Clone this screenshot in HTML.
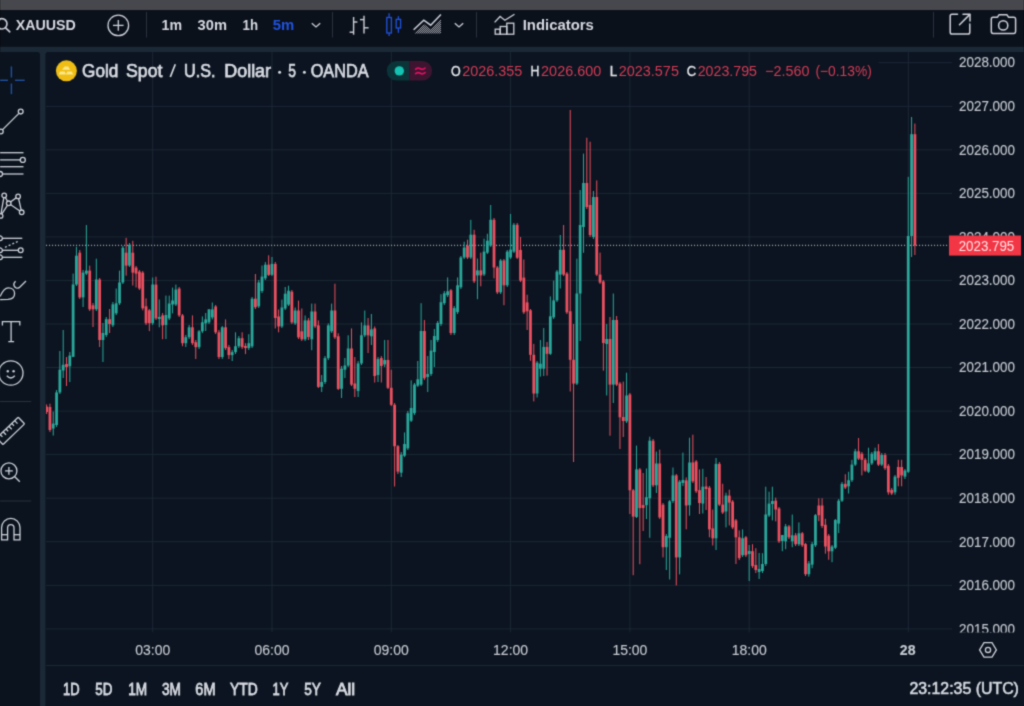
<!DOCTYPE html>
<html><head><meta charset="utf-8">
<style>
html,body{margin:0;padding:0;background:#0b111b;}
html{background:#46484d;}
body{width:1024px;height:706px;overflow:hidden;position:relative;}
svg{position:absolute;left:0;top:0;will-change:transform;}
text{font-family:"Liberation Sans",sans-serif;}
.ax{font-size:14.8px;fill:#c6c9d1;stroke:#c6c9d1;stroke-width:0.15px;}
.b{font-weight:bold;}
.tb{font-size:14.8px;font-weight:bold;fill:#d6d9e0;}
.leg{font-size:18px;fill:#d6d9e0;stroke:#d6d9e0;stroke-width:0.75px;}
.ohlc{font-size:14.6px;fill:#d63a55;}
.ohl{font-size:14.6px;fill:#e4e6ea;stroke:#e4e6ea;stroke-width:0.4px;}
.bt{font-size:16px;fill:#d6d9e0;stroke:#d6d9e0;stroke-width:0.8px;}
.bt2{font-size:16px;fill:#d6d9e0;stroke:#d6d9e0;stroke-width:0.6px;}
</style></head>
<body>
<svg width="1024" height="706" viewBox="0 0 1024 706">
<defs><filter id="soft" x="0" y="0" width="1" height="1" color-interpolation-filters="sRGB"><feConvolveMatrix order="3" kernelMatrix="1 4 1 4 16 4 1 4 1" divisor="36" edgeMode="duplicate" preserveAlpha="true"/></filter><clipPath id="pane"><rect x="46" y="52" width="978" height="580.5"/></clipPath></defs>
<g filter="url(#soft)">
<rect x="0" y="0" width="1024" height="706" fill="#0b111b"/>
<rect x="0" y="0" width="1024" height="10" fill="#46484d"/>
<rect x="0" y="46.8" width="1024" height="660" fill="#1b2836"/>
<rect x="-5" y="52" width="45" height="660" rx="3" fill="#0a131e"/>
<rect x="45.4" y="52" width="985" height="660" rx="3" fill="#0b1420"/>
<rect x="46" y="665" width="978" height="1" fill="#1b2836"/>
<g clip-path="url(#pane)">
<rect x="878.5" y="62.2" width="73.5" height="1" fill="#1c2736"/>
<rect x="46" y="105.8" width="906" height="1" fill="#1c2736"/>
<rect x="46" y="149.3" width="906" height="1" fill="#1c2736"/>
<rect x="46" y="192.8" width="906" height="1" fill="#1c2736"/>
<rect x="46" y="236.4" width="906" height="1" fill="#1c2736"/>
<rect x="46" y="279.9" width="906" height="1" fill="#1c2736"/>
<rect x="46" y="323.5" width="906" height="1" fill="#1c2736"/>
<rect x="46" y="367.0" width="906" height="1" fill="#1c2736"/>
<rect x="46" y="410.6" width="906" height="1" fill="#1c2736"/>
<rect x="46" y="454.1" width="906" height="1" fill="#1c2736"/>
<rect x="46" y="497.7" width="906" height="1" fill="#1c2736"/>
<rect x="46" y="541.2" width="906" height="1" fill="#1c2736"/>
<rect x="46" y="584.8" width="906" height="1" fill="#1c2736"/>
<rect x="46" y="628.4" width="906" height="1" fill="#1c2736"/>
<rect x="152.2" y="52" width="1" height="580.5" fill="#1c2736"/>
<rect x="271.5" y="52" width="1" height="580.5" fill="#1c2736"/>
<rect x="390.8" y="52" width="1" height="580.5" fill="#1c2736"/>
<rect x="510.1" y="52" width="1" height="580.5" fill="#1c2736"/>
<rect x="629.4" y="52" width="1" height="580.5" fill="#1c2736"/>
<rect x="748.7" y="52" width="1" height="580.5" fill="#1c2736"/>
<rect x="907.8" y="52" width="1" height="580.5" fill="#1c2736"/>
<line x1="46" y1="245.4" x2="949" y2="245.4" stroke="#a3a7b0" stroke-width="1.1" stroke-dasharray="1.1,1.9"/>
<rect x="46.12" y="404.4" width="1" height="9.6" fill="#eb5060"/>
<rect x="45.22" y="406.6" width="2.8" height="5.4" fill="#eb5060"/>
<rect x="49.43" y="403.7" width="1" height="28.3" fill="#eb5060"/>
<rect x="48.53" y="407.0" width="2.8" height="23.0" fill="#eb5060"/>
<rect x="52.74" y="411.5" width="1" height="24.1" fill="#2aa89b"/>
<rect x="51.84" y="423.6" width="2.8" height="4.9" fill="#2aa89b"/>
<rect x="56.06" y="390.0" width="1" height="37.0" fill="#2aa89b"/>
<rect x="55.16" y="392.4" width="2.8" height="32.6" fill="#2aa89b"/>
<rect x="59.37" y="351.0" width="1" height="43.0" fill="#2aa89b"/>
<rect x="58.47" y="369.7" width="2.8" height="22.7" fill="#2aa89b"/>
<rect x="62.69" y="330.0" width="1" height="48.0" fill="#2aa89b"/>
<rect x="61.79" y="364.8" width="2.8" height="5.7" fill="#2aa89b"/>
<rect x="66.00" y="357.0" width="1" height="29.0" fill="#eb5060"/>
<rect x="65.10" y="364.0" width="2.8" height="3.0" fill="#eb5060"/>
<rect x="69.31" y="352.0" width="1" height="30.0" fill="#2aa89b"/>
<rect x="68.41" y="355.6" width="2.8" height="10.6" fill="#2aa89b"/>
<rect x="72.63" y="273.6" width="1" height="83.4" fill="#2aa89b"/>
<rect x="71.73" y="284.5" width="2.8" height="72.4" fill="#2aa89b"/>
<rect x="75.94" y="246.8" width="1" height="39.2" fill="#2aa89b"/>
<rect x="75.04" y="255.7" width="2.8" height="28.8" fill="#2aa89b"/>
<rect x="79.26" y="250.0" width="1" height="49.0" fill="#eb5060"/>
<rect x="78.36" y="252.7" width="2.8" height="44.7" fill="#eb5060"/>
<rect x="82.57" y="270.0" width="1" height="37.0" fill="#2aa89b"/>
<rect x="81.67" y="272.6" width="2.8" height="24.8" fill="#2aa89b"/>
<rect x="85.88" y="225.0" width="1" height="50.0" fill="#2aa89b"/>
<rect x="84.98" y="270.6" width="2.8" height="3.0" fill="#2aa89b"/>
<rect x="89.20" y="265.6" width="1" height="45.4" fill="#eb5060"/>
<rect x="88.30" y="270.6" width="2.8" height="38.7" fill="#eb5060"/>
<rect x="92.51" y="303.0" width="1" height="24.0" fill="#eb5060"/>
<rect x="91.61" y="305.3" width="2.8" height="4.0" fill="#eb5060"/>
<rect x="95.83" y="258.7" width="1" height="52.3" fill="#2aa89b"/>
<rect x="94.93" y="279.5" width="2.8" height="29.8" fill="#2aa89b"/>
<rect x="99.14" y="278.0" width="1" height="69.0" fill="#eb5060"/>
<rect x="98.24" y="279.5" width="2.8" height="60.5" fill="#eb5060"/>
<rect x="102.45" y="323.0" width="1" height="39.0" fill="#2aa89b"/>
<rect x="101.55" y="333.0" width="2.8" height="7.0" fill="#2aa89b"/>
<rect x="105.77" y="317.0" width="1" height="20.0" fill="#2aa89b"/>
<rect x="104.87" y="319.2" width="2.8" height="15.8" fill="#2aa89b"/>
<rect x="109.08" y="309.0" width="1" height="24.0" fill="#eb5060"/>
<rect x="108.18" y="319.2" width="2.8" height="4.8" fill="#eb5060"/>
<rect x="112.40" y="302.0" width="1" height="25.0" fill="#2aa89b"/>
<rect x="111.50" y="304.3" width="2.8" height="20.9" fill="#2aa89b"/>
<rect x="115.71" y="288.5" width="1" height="26.5" fill="#2aa89b"/>
<rect x="114.81" y="303.3" width="2.8" height="10.0" fill="#2aa89b"/>
<rect x="119.02" y="270.6" width="1" height="34.4" fill="#2aa89b"/>
<rect x="118.12" y="282.5" width="2.8" height="20.8" fill="#2aa89b"/>
<rect x="122.34" y="246.0" width="1" height="38.0" fill="#2aa89b"/>
<rect x="121.44" y="247.8" width="2.8" height="34.7" fill="#2aa89b"/>
<rect x="125.65" y="237.9" width="1" height="37.7" fill="#eb5060"/>
<rect x="124.75" y="252.7" width="2.8" height="12.9" fill="#eb5060"/>
<rect x="128.97" y="243.0" width="1" height="24.0" fill="#2aa89b"/>
<rect x="128.07" y="244.8" width="2.8" height="20.8" fill="#2aa89b"/>
<rect x="132.28" y="240.8" width="1" height="44.7" fill="#eb5060"/>
<rect x="131.38" y="252.7" width="2.8" height="19.9" fill="#eb5060"/>
<rect x="135.59" y="266.0" width="1" height="21.5" fill="#eb5060"/>
<rect x="134.69" y="267.6" width="2.8" height="6.0" fill="#eb5060"/>
<rect x="138.91" y="270.0" width="1" height="20.0" fill="#eb5060"/>
<rect x="138.01" y="271.6" width="2.8" height="16.9" fill="#eb5060"/>
<rect x="142.22" y="271.0" width="1" height="39.3" fill="#eb5060"/>
<rect x="141.32" y="272.6" width="2.8" height="35.7" fill="#eb5060"/>
<rect x="145.54" y="298.4" width="1" height="26.6" fill="#eb5060"/>
<rect x="144.64" y="306.3" width="2.8" height="16.9" fill="#eb5060"/>
<rect x="148.85" y="309.0" width="1" height="22.1" fill="#eb5060"/>
<rect x="147.95" y="310.3" width="2.8" height="12.9" fill="#eb5060"/>
<rect x="152.16" y="277.5" width="1" height="47.5" fill="#2aa89b"/>
<rect x="151.26" y="284.5" width="2.8" height="38.7" fill="#2aa89b"/>
<rect x="155.48" y="276.7" width="1" height="43.3" fill="#eb5060"/>
<rect x="154.58" y="284.6" width="2.8" height="33.8" fill="#eb5060"/>
<rect x="158.79" y="299.5" width="1" height="27.8" fill="#2aa89b"/>
<rect x="157.89" y="317.0" width="2.8" height="2.0" fill="#2aa89b"/>
<rect x="162.11" y="313.0" width="1" height="26.2" fill="#eb5060"/>
<rect x="161.21" y="315.4" width="2.8" height="9.9" fill="#eb5060"/>
<rect x="165.42" y="295.6" width="1" height="43.4" fill="#2aa89b"/>
<rect x="164.52" y="315.0" width="2.8" height="10.0" fill="#2aa89b"/>
<rect x="168.73" y="295.6" width="1" height="24.4" fill="#2aa89b"/>
<rect x="167.83" y="303.5" width="2.8" height="14.9" fill="#2aa89b"/>
<rect x="172.05" y="287.6" width="1" height="25.8" fill="#2aa89b"/>
<rect x="171.15" y="300.5" width="2.8" height="4.0" fill="#2aa89b"/>
<rect x="175.36" y="284.6" width="1" height="21.4" fill="#2aa89b"/>
<rect x="174.46" y="289.6" width="2.8" height="14.9" fill="#2aa89b"/>
<rect x="178.68" y="287.0" width="1" height="30.0" fill="#eb5060"/>
<rect x="177.78" y="288.6" width="2.8" height="26.8" fill="#eb5060"/>
<rect x="181.99" y="314.0" width="1" height="32.2" fill="#eb5060"/>
<rect x="181.09" y="315.4" width="2.8" height="27.8" fill="#eb5060"/>
<rect x="185.30" y="335.0" width="1" height="12.0" fill="#2aa89b"/>
<rect x="184.40" y="337.2" width="2.8" height="6.0" fill="#2aa89b"/>
<rect x="188.62" y="325.0" width="1" height="14.0" fill="#2aa89b"/>
<rect x="187.72" y="327.3" width="2.8" height="9.9" fill="#2aa89b"/>
<rect x="191.93" y="315.4" width="1" height="29.6" fill="#eb5060"/>
<rect x="191.03" y="327.3" width="2.8" height="15.9" fill="#eb5060"/>
<rect x="195.25" y="340.0" width="1" height="19.0" fill="#eb5060"/>
<rect x="194.35" y="342.2" width="2.8" height="4.9" fill="#eb5060"/>
<rect x="198.56" y="330.0" width="1" height="19.0" fill="#2aa89b"/>
<rect x="197.66" y="331.3" width="2.8" height="15.8" fill="#2aa89b"/>
<rect x="201.87" y="316.4" width="1" height="16.6" fill="#2aa89b"/>
<rect x="200.97" y="322.3" width="2.8" height="9.0" fill="#2aa89b"/>
<rect x="205.19" y="313.0" width="1" height="18.0" fill="#2aa89b"/>
<rect x="204.29" y="319.4" width="2.8" height="3.9" fill="#2aa89b"/>
<rect x="208.50" y="309.0" width="1" height="15.0" fill="#2aa89b"/>
<rect x="207.60" y="309.4" width="2.8" height="12.9" fill="#2aa89b"/>
<rect x="211.82" y="302.5" width="1" height="16.9" fill="#2aa89b"/>
<rect x="210.92" y="309.4" width="2.8" height="8.0" fill="#2aa89b"/>
<rect x="215.13" y="305.0" width="1" height="29.0" fill="#eb5060"/>
<rect x="214.23" y="306.5" width="2.8" height="25.8" fill="#eb5060"/>
<rect x="218.44" y="330.0" width="1" height="29.0" fill="#eb5060"/>
<rect x="217.54" y="332.3" width="2.8" height="24.7" fill="#eb5060"/>
<rect x="221.76" y="326.0" width="1" height="33.0" fill="#2aa89b"/>
<rect x="220.86" y="327.3" width="2.8" height="29.7" fill="#2aa89b"/>
<rect x="225.07" y="319.4" width="1" height="30.6" fill="#eb5060"/>
<rect x="224.17" y="327.3" width="2.8" height="20.8" fill="#eb5060"/>
<rect x="228.39" y="345.0" width="1" height="14.0" fill="#eb5060"/>
<rect x="227.49" y="347.1" width="2.8" height="8.0" fill="#eb5060"/>
<rect x="231.70" y="350.0" width="1" height="11.0" fill="#2aa89b"/>
<rect x="230.80" y="352.1" width="2.8" height="3.0" fill="#2aa89b"/>
<rect x="235.01" y="332.3" width="1" height="21.7" fill="#2aa89b"/>
<rect x="234.11" y="346.2" width="2.8" height="5.9" fill="#2aa89b"/>
<rect x="238.33" y="336.0" width="1" height="12.0" fill="#2aa89b"/>
<rect x="237.43" y="338.2" width="2.8" height="8.0" fill="#2aa89b"/>
<rect x="241.64" y="332.3" width="1" height="16.7" fill="#eb5060"/>
<rect x="240.74" y="338.2" width="2.8" height="8.9" fill="#eb5060"/>
<rect x="244.96" y="343.2" width="1" height="10.9" fill="#eb5060"/>
<rect x="244.06" y="346.0" width="2.8" height="2.0" fill="#eb5060"/>
<rect x="248.27" y="334.2" width="1" height="15.8" fill="#2aa89b"/>
<rect x="247.37" y="343.2" width="2.8" height="4.9" fill="#2aa89b"/>
<rect x="251.58" y="297.0" width="1" height="51.0" fill="#2aa89b"/>
<rect x="250.68" y="298.7" width="2.8" height="47.6" fill="#2aa89b"/>
<rect x="254.90" y="274.0" width="1" height="35.0" fill="#eb5060"/>
<rect x="254.00" y="298.7" width="2.8" height="8.5" fill="#eb5060"/>
<rect x="258.21" y="280.0" width="1" height="28.0" fill="#2aa89b"/>
<rect x="257.31" y="282.5" width="2.8" height="23.8" fill="#2aa89b"/>
<rect x="261.53" y="265.5" width="1" height="27.5" fill="#2aa89b"/>
<rect x="260.63" y="276.6" width="2.8" height="14.4" fill="#2aa89b"/>
<rect x="264.84" y="262.0" width="1" height="18.0" fill="#2aa89b"/>
<rect x="263.94" y="264.7" width="2.8" height="13.6" fill="#2aa89b"/>
<rect x="268.15" y="255.3" width="1" height="20.7" fill="#eb5060"/>
<rect x="267.25" y="264.7" width="2.8" height="10.2" fill="#eb5060"/>
<rect x="271.47" y="257.0" width="1" height="19.0" fill="#2aa89b"/>
<rect x="270.57" y="263.9" width="2.8" height="10.9" fill="#2aa89b"/>
<rect x="274.78" y="262.0" width="1" height="66.4" fill="#eb5060"/>
<rect x="273.88" y="263.9" width="2.8" height="54.1" fill="#eb5060"/>
<rect x="278.10" y="309.5" width="1" height="22.8" fill="#eb5060"/>
<rect x="277.20" y="316.5" width="2.8" height="9.9" fill="#eb5060"/>
<rect x="281.41" y="299.6" width="1" height="28.4" fill="#2aa89b"/>
<rect x="280.51" y="307.5" width="2.8" height="18.9" fill="#2aa89b"/>
<rect x="284.72" y="287.0" width="1" height="23.0" fill="#2aa89b"/>
<rect x="283.82" y="293.7" width="2.8" height="14.8" fill="#2aa89b"/>
<rect x="288.04" y="285.7" width="1" height="20.3" fill="#2aa89b"/>
<rect x="287.14" y="290.7" width="2.8" height="13.9" fill="#2aa89b"/>
<rect x="291.35" y="290.0" width="1" height="34.0" fill="#eb5060"/>
<rect x="290.45" y="291.7" width="2.8" height="30.7" fill="#eb5060"/>
<rect x="294.67" y="307.5" width="1" height="17.5" fill="#2aa89b"/>
<rect x="293.77" y="310.5" width="2.8" height="12.9" fill="#2aa89b"/>
<rect x="297.98" y="300.6" width="1" height="38.4" fill="#eb5060"/>
<rect x="297.08" y="310.5" width="2.8" height="26.8" fill="#eb5060"/>
<rect x="301.29" y="308.5" width="1" height="32.5" fill="#eb5060"/>
<rect x="300.39" y="331.3" width="2.8" height="8.0" fill="#eb5060"/>
<rect x="304.61" y="315.5" width="1" height="25.5" fill="#2aa89b"/>
<rect x="303.71" y="320.4" width="2.8" height="18.9" fill="#2aa89b"/>
<rect x="307.92" y="318.0" width="1" height="22.0" fill="#eb5060"/>
<rect x="307.02" y="320.4" width="2.8" height="16.6" fill="#eb5060"/>
<rect x="311.24" y="303.6" width="1" height="46.6" fill="#2aa89b"/>
<rect x="310.34" y="311.5" width="2.8" height="27.8" fill="#2aa89b"/>
<rect x="314.55" y="303.6" width="1" height="24.4" fill="#eb5060"/>
<rect x="313.65" y="311.5" width="2.8" height="14.9" fill="#eb5060"/>
<rect x="317.86" y="320.4" width="1" height="67.6" fill="#eb5060"/>
<rect x="316.96" y="325.4" width="2.8" height="61.5" fill="#eb5060"/>
<rect x="321.18" y="375.0" width="1" height="17.0" fill="#2aa89b"/>
<rect x="320.28" y="382.0" width="2.8" height="4.9" fill="#2aa89b"/>
<rect x="324.49" y="356.0" width="1" height="28.0" fill="#2aa89b"/>
<rect x="323.59" y="358.1" width="2.8" height="23.9" fill="#2aa89b"/>
<rect x="327.81" y="323.4" width="1" height="36.6" fill="#2aa89b"/>
<rect x="326.91" y="325.4" width="2.8" height="32.7" fill="#2aa89b"/>
<rect x="331.12" y="303.6" width="1" height="29.4" fill="#2aa89b"/>
<rect x="330.22" y="310.5" width="2.8" height="20.8" fill="#2aa89b"/>
<rect x="334.43" y="283.7" width="1" height="55.3" fill="#eb5060"/>
<rect x="333.53" y="310.5" width="2.8" height="26.8" fill="#eb5060"/>
<rect x="337.75" y="333.3" width="1" height="56.7" fill="#eb5060"/>
<rect x="336.85" y="336.3" width="2.8" height="52.6" fill="#eb5060"/>
<rect x="341.06" y="366.0" width="1" height="32.0" fill="#2aa89b"/>
<rect x="340.16" y="368.7" width="2.8" height="20.1" fill="#2aa89b"/>
<rect x="344.38" y="358.0" width="1" height="20.0" fill="#2aa89b"/>
<rect x="343.48" y="365.5" width="2.8" height="4.2" fill="#2aa89b"/>
<rect x="347.69" y="335.3" width="1" height="31.7" fill="#2aa89b"/>
<rect x="346.79" y="348.5" width="2.8" height="17.0" fill="#2aa89b"/>
<rect x="351.00" y="328.4" width="1" height="57.6" fill="#eb5060"/>
<rect x="350.10" y="348.5" width="2.8" height="36.1" fill="#eb5060"/>
<rect x="354.32" y="357.0" width="1" height="40.0" fill="#eb5060"/>
<rect x="353.42" y="383.5" width="2.8" height="5.3" fill="#eb5060"/>
<rect x="357.63" y="361.0" width="1" height="36.0" fill="#2aa89b"/>
<rect x="356.73" y="363.4" width="2.8" height="27.6" fill="#2aa89b"/>
<rect x="360.95" y="322.4" width="1" height="42.6" fill="#2aa89b"/>
<rect x="360.05" y="335.3" width="2.8" height="28.1" fill="#2aa89b"/>
<rect x="364.26" y="310.5" width="1" height="26.5" fill="#2aa89b"/>
<rect x="363.36" y="325.4" width="2.8" height="9.9" fill="#2aa89b"/>
<rect x="367.57" y="318.0" width="1" height="35.0" fill="#eb5060"/>
<rect x="366.67" y="325.4" width="2.8" height="9.9" fill="#eb5060"/>
<rect x="370.89" y="314.0" width="1" height="31.0" fill="#2aa89b"/>
<rect x="369.99" y="329.4" width="2.8" height="6.9" fill="#2aa89b"/>
<rect x="374.20" y="326.4" width="1" height="56.1" fill="#eb5060"/>
<rect x="373.30" y="328.4" width="2.8" height="47.6" fill="#eb5060"/>
<rect x="377.52" y="357.0" width="1" height="25.0" fill="#2aa89b"/>
<rect x="376.62" y="359.1" width="2.8" height="15.9" fill="#2aa89b"/>
<rect x="380.83" y="356.0" width="1" height="26.5" fill="#eb5060"/>
<rect x="379.93" y="358.0" width="2.8" height="8.0" fill="#eb5060"/>
<rect x="384.14" y="340.0" width="1" height="27.0" fill="#2aa89b"/>
<rect x="383.24" y="360.0" width="2.8" height="4.4" fill="#2aa89b"/>
<rect x="387.46" y="340.0" width="1" height="49.0" fill="#eb5060"/>
<rect x="386.56" y="360.0" width="2.8" height="27.8" fill="#eb5060"/>
<rect x="390.77" y="369.7" width="1" height="36.3" fill="#eb5060"/>
<rect x="389.87" y="387.8" width="2.8" height="17.0" fill="#eb5060"/>
<rect x="394.09" y="403.0" width="1" height="83.5" fill="#eb5060"/>
<rect x="393.19" y="404.8" width="2.8" height="41.4" fill="#eb5060"/>
<rect x="397.40" y="445.0" width="1" height="29.0" fill="#eb5060"/>
<rect x="396.50" y="446.2" width="2.8" height="25.4" fill="#eb5060"/>
<rect x="400.71" y="452.0" width="1" height="25.0" fill="#2aa89b"/>
<rect x="399.81" y="454.6" width="2.8" height="18.1" fill="#2aa89b"/>
<rect x="404.03" y="432.4" width="1" height="24.6" fill="#2aa89b"/>
<rect x="403.13" y="444.0" width="2.8" height="11.7" fill="#2aa89b"/>
<rect x="407.34" y="411.0" width="1" height="39.0" fill="#2aa89b"/>
<rect x="406.44" y="413.2" width="2.8" height="35.1" fill="#2aa89b"/>
<rect x="410.66" y="380.3" width="1" height="41.7" fill="#2aa89b"/>
<rect x="409.76" y="408.0" width="2.8" height="12.7" fill="#2aa89b"/>
<rect x="413.97" y="383.0" width="1" height="32.0" fill="#2aa89b"/>
<rect x="413.07" y="384.6" width="2.8" height="28.6" fill="#2aa89b"/>
<rect x="417.28" y="361.0" width="1" height="26.0" fill="#2aa89b"/>
<rect x="416.38" y="379.3" width="2.8" height="6.3" fill="#2aa89b"/>
<rect x="420.60" y="303.2" width="1" height="82.8" fill="#2aa89b"/>
<rect x="419.70" y="331.0" width="2.8" height="53.6" fill="#2aa89b"/>
<rect x="423.91" y="320.0" width="1" height="60.0" fill="#eb5060"/>
<rect x="423.01" y="331.0" width="2.8" height="47.2" fill="#eb5060"/>
<rect x="427.23" y="356.0" width="1" height="36.0" fill="#2aa89b"/>
<rect x="426.33" y="374.0" width="2.8" height="3.0" fill="#2aa89b"/>
<rect x="430.54" y="340.0" width="1" height="36.0" fill="#2aa89b"/>
<rect x="429.64" y="350.6" width="2.8" height="23.4" fill="#2aa89b"/>
<rect x="433.85" y="329.0" width="1" height="38.0" fill="#2aa89b"/>
<rect x="432.95" y="336.0" width="2.8" height="16.0" fill="#2aa89b"/>
<rect x="437.17" y="321.0" width="1" height="21.0" fill="#2aa89b"/>
<rect x="436.27" y="323.0" width="2.8" height="17.0" fill="#2aa89b"/>
<rect x="440.48" y="294.2" width="1" height="31.8" fill="#2aa89b"/>
<rect x="439.58" y="302.2" width="2.8" height="21.8" fill="#2aa89b"/>
<rect x="443.80" y="291.0" width="1" height="14.0" fill="#2aa89b"/>
<rect x="442.90" y="293.3" width="2.8" height="9.9" fill="#2aa89b"/>
<rect x="447.11" y="277.4" width="1" height="19.6" fill="#2aa89b"/>
<rect x="446.21" y="291.3" width="2.8" height="3.9" fill="#2aa89b"/>
<rect x="450.42" y="289.0" width="1" height="46.0" fill="#eb5060"/>
<rect x="449.52" y="290.3" width="2.8" height="42.7" fill="#eb5060"/>
<rect x="453.74" y="306.0" width="1" height="29.0" fill="#2aa89b"/>
<rect x="452.84" y="308.1" width="2.8" height="24.9" fill="#2aa89b"/>
<rect x="457.05" y="277.4" width="1" height="36.6" fill="#2aa89b"/>
<rect x="456.15" y="285.3" width="2.8" height="26.8" fill="#2aa89b"/>
<rect x="460.37" y="256.0" width="1" height="33.0" fill="#2aa89b"/>
<rect x="459.47" y="257.5" width="2.8" height="29.8" fill="#2aa89b"/>
<rect x="463.68" y="241.7" width="1" height="17.3" fill="#2aa89b"/>
<rect x="462.78" y="247.6" width="2.8" height="9.9" fill="#2aa89b"/>
<rect x="466.99" y="239.7" width="1" height="19.3" fill="#eb5060"/>
<rect x="466.09" y="245.6" width="2.8" height="11.9" fill="#eb5060"/>
<rect x="470.31" y="219.8" width="1" height="39.2" fill="#2aa89b"/>
<rect x="469.41" y="234.7" width="2.8" height="22.8" fill="#2aa89b"/>
<rect x="473.62" y="229.8" width="1" height="53.2" fill="#eb5060"/>
<rect x="472.72" y="234.7" width="2.8" height="46.6" fill="#eb5060"/>
<rect x="476.94" y="258.5" width="1" height="40.7" fill="#2aa89b"/>
<rect x="476.04" y="270.4" width="2.8" height="5.0" fill="#2aa89b"/>
<rect x="480.25" y="252.6" width="1" height="33.7" fill="#eb5060"/>
<rect x="479.35" y="270.4" width="2.8" height="5.0" fill="#eb5060"/>
<rect x="483.56" y="238.7" width="1" height="37.3" fill="#2aa89b"/>
<rect x="482.66" y="251.6" width="2.8" height="22.8" fill="#2aa89b"/>
<rect x="486.88" y="233.7" width="1" height="20.3" fill="#2aa89b"/>
<rect x="485.98" y="240.7" width="2.8" height="11.9" fill="#2aa89b"/>
<rect x="490.19" y="205.0" width="1" height="42.0" fill="#2aa89b"/>
<rect x="489.29" y="219.8" width="2.8" height="25.8" fill="#2aa89b"/>
<rect x="493.51" y="218.0" width="1" height="60.4" fill="#eb5060"/>
<rect x="492.61" y="219.8" width="2.8" height="47.7" fill="#eb5060"/>
<rect x="496.82" y="266.0" width="1" height="28.0" fill="#eb5060"/>
<rect x="495.92" y="267.5" width="2.8" height="24.8" fill="#eb5060"/>
<rect x="500.13" y="259.0" width="1" height="35.0" fill="#2aa89b"/>
<rect x="499.23" y="260.5" width="2.8" height="31.8" fill="#2aa89b"/>
<rect x="503.45" y="259.0" width="1" height="46.2" fill="#eb5060"/>
<rect x="502.55" y="260.5" width="2.8" height="24.8" fill="#eb5060"/>
<rect x="506.76" y="250.0" width="1" height="37.0" fill="#2aa89b"/>
<rect x="505.86" y="251.6" width="2.8" height="33.7" fill="#2aa89b"/>
<rect x="510.08" y="213.9" width="1" height="45.1" fill="#2aa89b"/>
<rect x="509.18" y="249.6" width="2.8" height="7.9" fill="#2aa89b"/>
<rect x="513.39" y="223.0" width="1" height="30.0" fill="#2aa89b"/>
<rect x="512.49" y="224.8" width="2.8" height="26.8" fill="#2aa89b"/>
<rect x="516.70" y="223.0" width="1" height="36.0" fill="#eb5060"/>
<rect x="515.80" y="224.8" width="2.8" height="32.9" fill="#eb5060"/>
<rect x="520.02" y="237.0" width="1" height="45.0" fill="#eb5060"/>
<rect x="519.12" y="250.0" width="2.8" height="30.6" fill="#eb5060"/>
<rect x="523.33" y="259.5" width="1" height="54.5" fill="#eb5060"/>
<rect x="522.43" y="277.6" width="2.8" height="34.7" fill="#eb5060"/>
<rect x="526.65" y="294.7" width="1" height="35.3" fill="#eb5060"/>
<rect x="525.75" y="302.4" width="2.8" height="8.9" fill="#eb5060"/>
<rect x="529.96" y="309.0" width="1" height="51.8" fill="#eb5060"/>
<rect x="529.06" y="310.3" width="2.8" height="44.5" fill="#eb5060"/>
<rect x="533.27" y="343.9" width="1" height="57.5" fill="#eb5060"/>
<rect x="532.37" y="354.8" width="2.8" height="38.7" fill="#eb5060"/>
<rect x="536.59" y="361.0" width="1" height="36.5" fill="#2aa89b"/>
<rect x="535.69" y="362.7" width="2.8" height="30.8" fill="#2aa89b"/>
<rect x="539.90" y="340.0" width="1" height="36.6" fill="#2aa89b"/>
<rect x="539.00" y="363.7" width="2.8" height="5.0" fill="#2aa89b"/>
<rect x="543.22" y="328.0" width="1" height="48.0" fill="#2aa89b"/>
<rect x="542.32" y="346.9" width="2.8" height="21.8" fill="#2aa89b"/>
<rect x="546.53" y="342.0" width="1" height="33.6" fill="#eb5060"/>
<rect x="545.63" y="346.9" width="2.8" height="6.9" fill="#eb5060"/>
<rect x="549.84" y="296.4" width="1" height="58.6" fill="#2aa89b"/>
<rect x="548.94" y="316.3" width="2.8" height="37.5" fill="#2aa89b"/>
<rect x="553.16" y="280.6" width="1" height="38.4" fill="#2aa89b"/>
<rect x="552.26" y="300.4" width="2.8" height="16.9" fill="#2aa89b"/>
<rect x="556.47" y="270.0" width="1" height="32.0" fill="#2aa89b"/>
<rect x="555.57" y="271.6" width="2.8" height="28.8" fill="#2aa89b"/>
<rect x="559.79" y="235.0" width="1" height="53.5" fill="#2aa89b"/>
<rect x="558.89" y="249.8" width="2.8" height="24.8" fill="#2aa89b"/>
<rect x="563.10" y="225.0" width="1" height="51.0" fill="#eb5060"/>
<rect x="562.20" y="249.8" width="2.8" height="24.8" fill="#eb5060"/>
<rect x="566.41" y="272.0" width="1" height="42.0" fill="#eb5060"/>
<rect x="565.51" y="273.6" width="2.8" height="38.7" fill="#eb5060"/>
<rect x="569.73" y="110.0" width="1" height="281.5" fill="#eb5060"/>
<rect x="568.83" y="311.3" width="2.8" height="48.5" fill="#eb5060"/>
<rect x="573.04" y="324.0" width="1" height="138.0" fill="#eb5060"/>
<rect x="572.14" y="359.8" width="2.8" height="23.8" fill="#eb5060"/>
<rect x="576.36" y="258.7" width="1" height="126.3" fill="#2aa89b"/>
<rect x="575.46" y="293.5" width="2.8" height="90.1" fill="#2aa89b"/>
<rect x="579.67" y="190.0" width="1" height="151.0" fill="#2aa89b"/>
<rect x="578.77" y="225.0" width="2.8" height="68.5" fill="#2aa89b"/>
<rect x="582.98" y="153.6" width="1" height="99.2" fill="#2aa89b"/>
<rect x="582.08" y="183.0" width="2.8" height="44.0" fill="#2aa89b"/>
<rect x="586.30" y="137.7" width="1" height="71.3" fill="#eb5060"/>
<rect x="585.40" y="183.0" width="2.8" height="24.0" fill="#eb5060"/>
<rect x="589.61" y="141.7" width="1" height="95.3" fill="#eb5060"/>
<rect x="588.71" y="205.0" width="2.8" height="30.0" fill="#eb5060"/>
<rect x="592.93" y="191.0" width="1" height="48.0" fill="#2aa89b"/>
<rect x="592.03" y="197.0" width="2.8" height="40.0" fill="#2aa89b"/>
<rect x="596.24" y="180.4" width="1" height="95.6" fill="#eb5060"/>
<rect x="595.34" y="197.0" width="2.8" height="77.6" fill="#eb5060"/>
<rect x="599.55" y="252.6" width="1" height="31.4" fill="#eb5060"/>
<rect x="598.65" y="274.6" width="2.8" height="7.9" fill="#eb5060"/>
<rect x="602.87" y="280.0" width="1" height="90.7" fill="#eb5060"/>
<rect x="601.97" y="281.5" width="2.8" height="61.5" fill="#eb5060"/>
<rect x="606.18" y="324.0" width="1" height="71.5" fill="#2aa89b"/>
<rect x="605.28" y="339.0" width="2.8" height="5.0" fill="#2aa89b"/>
<rect x="609.50" y="317.0" width="1" height="118.7" fill="#eb5060"/>
<rect x="608.60" y="339.0" width="2.8" height="45.6" fill="#eb5060"/>
<rect x="612.81" y="293.5" width="1" height="109.5" fill="#2aa89b"/>
<rect x="611.91" y="320.0" width="2.8" height="64.6" fill="#2aa89b"/>
<rect x="616.12" y="316.0" width="1" height="70.0" fill="#eb5060"/>
<rect x="615.22" y="320.0" width="2.8" height="64.6" fill="#eb5060"/>
<rect x="619.44" y="382.0" width="1" height="67.0" fill="#eb5060"/>
<rect x="618.54" y="383.6" width="2.8" height="33.7" fill="#eb5060"/>
<rect x="622.75" y="381.6" width="1" height="55.4" fill="#eb5060"/>
<rect x="621.85" y="417.0" width="2.8" height="4.0" fill="#eb5060"/>
<rect x="626.07" y="372.7" width="1" height="50.3" fill="#2aa89b"/>
<rect x="625.17" y="395.5" width="2.8" height="25.8" fill="#2aa89b"/>
<rect x="629.38" y="393.0" width="1" height="121.0" fill="#eb5060"/>
<rect x="628.48" y="394.5" width="2.8" height="95.8" fill="#eb5060"/>
<rect x="632.69" y="489.0" width="1" height="86.2" fill="#eb5060"/>
<rect x="631.79" y="490.3" width="2.8" height="26.3" fill="#eb5060"/>
<rect x="636.01" y="445.6" width="1" height="72.4" fill="#2aa89b"/>
<rect x="635.11" y="469.4" width="2.8" height="47.6" fill="#2aa89b"/>
<rect x="639.32" y="468.0" width="1" height="96.2" fill="#eb5060"/>
<rect x="638.42" y="469.4" width="2.8" height="38.7" fill="#eb5060"/>
<rect x="642.64" y="473.0" width="1" height="58.0" fill="#eb5060"/>
<rect x="641.74" y="505.0" width="2.8" height="3.0" fill="#eb5060"/>
<rect x="645.95" y="468.5" width="1" height="50.5" fill="#2aa89b"/>
<rect x="645.05" y="497.2" width="2.8" height="8.0" fill="#2aa89b"/>
<rect x="649.26" y="436.7" width="1" height="101.1" fill="#2aa89b"/>
<rect x="648.36" y="440.7" width="2.8" height="57.5" fill="#2aa89b"/>
<rect x="652.58" y="439.0" width="1" height="48.0" fill="#eb5060"/>
<rect x="651.68" y="440.7" width="2.8" height="44.6" fill="#eb5060"/>
<rect x="655.89" y="451.6" width="1" height="41.4" fill="#2aa89b"/>
<rect x="654.99" y="463.5" width="2.8" height="21.8" fill="#2aa89b"/>
<rect x="659.21" y="449.6" width="1" height="69.4" fill="#eb5060"/>
<rect x="658.31" y="463.5" width="2.8" height="53.9" fill="#eb5060"/>
<rect x="662.52" y="503.0" width="1" height="54.4" fill="#eb5060"/>
<rect x="661.62" y="504.7" width="2.8" height="42.5" fill="#eb5060"/>
<rect x="665.83" y="534.0" width="1" height="36.0" fill="#2aa89b"/>
<rect x="664.93" y="536.0" width="2.8" height="11.2" fill="#2aa89b"/>
<rect x="669.15" y="500.0" width="1" height="79.5" fill="#2aa89b"/>
<rect x="668.25" y="501.3" width="2.8" height="36.5" fill="#2aa89b"/>
<rect x="672.46" y="467.5" width="1" height="35.5" fill="#2aa89b"/>
<rect x="671.56" y="475.4" width="2.8" height="25.6" fill="#2aa89b"/>
<rect x="675.78" y="474.0" width="1" height="111.4" fill="#eb5060"/>
<rect x="674.88" y="475.4" width="2.8" height="82.0" fill="#eb5060"/>
<rect x="679.09" y="480.0" width="1" height="94.4" fill="#2aa89b"/>
<rect x="678.19" y="481.7" width="2.8" height="75.7" fill="#2aa89b"/>
<rect x="682.40" y="452.6" width="1" height="33.4" fill="#2aa89b"/>
<rect x="681.50" y="480.0" width="2.8" height="3.0" fill="#2aa89b"/>
<rect x="685.72" y="477.4" width="1" height="51.9" fill="#eb5060"/>
<rect x="684.82" y="480.4" width="2.8" height="25.1" fill="#eb5060"/>
<rect x="689.03" y="437.7" width="1" height="78.0" fill="#2aa89b"/>
<rect x="688.13" y="462.5" width="2.8" height="42.7" fill="#2aa89b"/>
<rect x="692.35" y="434.7" width="1" height="48.3" fill="#eb5060"/>
<rect x="691.45" y="462.5" width="2.8" height="18.8" fill="#eb5060"/>
<rect x="695.66" y="460.0" width="1" height="33.0" fill="#eb5060"/>
<rect x="694.76" y="461.5" width="2.8" height="29.8" fill="#eb5060"/>
<rect x="698.97" y="469.4" width="1" height="44.6" fill="#eb5060"/>
<rect x="698.07" y="490.2" width="2.8" height="12.8" fill="#eb5060"/>
<rect x="702.29" y="468.8" width="1" height="44.7" fill="#2aa89b"/>
<rect x="701.39" y="486.7" width="2.8" height="16.9" fill="#2aa89b"/>
<rect x="705.60" y="477.0" width="1" height="33.0" fill="#eb5060"/>
<rect x="704.70" y="486.5" width="2.8" height="2.5" fill="#eb5060"/>
<rect x="708.92" y="486.0" width="1" height="51.3" fill="#eb5060"/>
<rect x="708.02" y="487.7" width="2.8" height="41.7" fill="#eb5060"/>
<rect x="712.23" y="509.5" width="1" height="36.0" fill="#eb5060"/>
<rect x="711.33" y="528.4" width="2.8" height="9.9" fill="#eb5060"/>
<rect x="715.54" y="458.0" width="1" height="92.0" fill="#2aa89b"/>
<rect x="714.64" y="463.9" width="2.8" height="74.4" fill="#2aa89b"/>
<rect x="718.86" y="462.0" width="1" height="44.0" fill="#eb5060"/>
<rect x="717.96" y="463.9" width="2.8" height="40.7" fill="#eb5060"/>
<rect x="722.17" y="483.7" width="1" height="30.3" fill="#eb5060"/>
<rect x="721.27" y="504.6" width="2.8" height="7.9" fill="#eb5060"/>
<rect x="725.49" y="492.7" width="1" height="34.7" fill="#2aa89b"/>
<rect x="724.59" y="495.6" width="2.8" height="15.9" fill="#2aa89b"/>
<rect x="728.80" y="489.7" width="1" height="35.7" fill="#eb5060"/>
<rect x="727.90" y="495.6" width="2.8" height="7.0" fill="#eb5060"/>
<rect x="732.11" y="500.0" width="1" height="29.0" fill="#eb5060"/>
<rect x="731.21" y="501.6" width="2.8" height="25.8" fill="#eb5060"/>
<rect x="735.43" y="519.0" width="1" height="45.0" fill="#eb5060"/>
<rect x="734.53" y="520.4" width="2.8" height="16.9" fill="#eb5060"/>
<rect x="738.74" y="530.4" width="1" height="29.6" fill="#eb5060"/>
<rect x="737.84" y="537.3" width="2.8" height="20.8" fill="#eb5060"/>
<rect x="742.06" y="529.4" width="1" height="27.6" fill="#2aa89b"/>
<rect x="741.16" y="538.3" width="2.8" height="16.9" fill="#2aa89b"/>
<rect x="745.37" y="536.0" width="1" height="21.0" fill="#eb5060"/>
<rect x="744.47" y="537.3" width="2.8" height="17.9" fill="#eb5060"/>
<rect x="748.68" y="545.0" width="1" height="36.0" fill="#2aa89b"/>
<rect x="747.78" y="551.0" width="2.8" height="3.0" fill="#2aa89b"/>
<rect x="752.00" y="544.2" width="1" height="23.8" fill="#eb5060"/>
<rect x="751.10" y="551.2" width="2.8" height="14.9" fill="#eb5060"/>
<rect x="755.31" y="548.2" width="1" height="24.8" fill="#eb5060"/>
<rect x="754.41" y="565.0" width="2.8" height="5.0" fill="#eb5060"/>
<rect x="758.63" y="553.0" width="1" height="26.0" fill="#2aa89b"/>
<rect x="757.73" y="569.0" width="2.8" height="3.0" fill="#2aa89b"/>
<rect x="761.94" y="553.2" width="1" height="19.8" fill="#2aa89b"/>
<rect x="761.04" y="564.0" width="2.8" height="7.0" fill="#2aa89b"/>
<rect x="765.25" y="486.7" width="1" height="79.3" fill="#2aa89b"/>
<rect x="764.35" y="514.5" width="2.8" height="49.5" fill="#2aa89b"/>
<rect x="768.57" y="491.7" width="1" height="25.3" fill="#2aa89b"/>
<rect x="767.67" y="503.6" width="2.8" height="11.9" fill="#2aa89b"/>
<rect x="771.88" y="486.7" width="1" height="33.7" fill="#2aa89b"/>
<rect x="770.98" y="501.0" width="2.8" height="3.0" fill="#2aa89b"/>
<rect x="775.20" y="497.6" width="1" height="23.8" fill="#eb5060"/>
<rect x="774.30" y="500.6" width="2.8" height="8.9" fill="#eb5060"/>
<rect x="778.51" y="507.0" width="1" height="36.0" fill="#eb5060"/>
<rect x="777.61" y="508.5" width="2.8" height="32.8" fill="#eb5060"/>
<rect x="781.82" y="535.0" width="1" height="16.2" fill="#2aa89b"/>
<rect x="780.92" y="535.0" width="2.8" height="6.0" fill="#2aa89b"/>
<rect x="785.14" y="524.0" width="1" height="25.2" fill="#2aa89b"/>
<rect x="784.24" y="526.4" width="2.8" height="14.9" fill="#2aa89b"/>
<rect x="788.45" y="525.0" width="1" height="14.0" fill="#eb5060"/>
<rect x="787.55" y="526.4" width="2.8" height="10.9" fill="#eb5060"/>
<rect x="791.77" y="514.5" width="1" height="32.7" fill="#2aa89b"/>
<rect x="790.87" y="535.3" width="2.8" height="6.0" fill="#2aa89b"/>
<rect x="795.08" y="533.0" width="1" height="13.0" fill="#eb5060"/>
<rect x="794.18" y="535.3" width="2.8" height="8.9" fill="#eb5060"/>
<rect x="798.39" y="522.4" width="1" height="23.6" fill="#2aa89b"/>
<rect x="797.49" y="533.3" width="2.8" height="10.9" fill="#2aa89b"/>
<rect x="801.71" y="532.0" width="1" height="15.0" fill="#eb5060"/>
<rect x="800.81" y="533.3" width="2.8" height="12.0" fill="#eb5060"/>
<rect x="805.02" y="543.0" width="1" height="33.0" fill="#eb5060"/>
<rect x="804.12" y="544.1" width="2.8" height="30.1" fill="#eb5060"/>
<rect x="808.34" y="561.0" width="1" height="15.6" fill="#2aa89b"/>
<rect x="807.44" y="563.4" width="2.8" height="10.8" fill="#2aa89b"/>
<rect x="811.65" y="542.0" width="1" height="26.2" fill="#2aa89b"/>
<rect x="810.75" y="544.1" width="2.8" height="20.5" fill="#2aa89b"/>
<rect x="814.96" y="514.0" width="1" height="33.0" fill="#2aa89b"/>
<rect x="814.06" y="515.2" width="2.8" height="30.1" fill="#2aa89b"/>
<rect x="818.28" y="498.3" width="1" height="22.9" fill="#eb5060"/>
<rect x="817.38" y="505.5" width="2.8" height="9.7" fill="#eb5060"/>
<rect x="821.59" y="498.3" width="1" height="29.7" fill="#eb5060"/>
<rect x="820.69" y="505.5" width="2.8" height="20.5" fill="#eb5060"/>
<rect x="824.91" y="518.8" width="1" height="34.9" fill="#eb5060"/>
<rect x="824.01" y="524.8" width="2.8" height="21.7" fill="#eb5060"/>
<rect x="828.22" y="534.0" width="1" height="25.8" fill="#eb5060"/>
<rect x="827.32" y="535.7" width="2.8" height="15.6" fill="#eb5060"/>
<rect x="831.53" y="545.0" width="1" height="17.2" fill="#2aa89b"/>
<rect x="830.63" y="546.5" width="2.8" height="4.8" fill="#2aa89b"/>
<rect x="834.85" y="519.0" width="1" height="30.0" fill="#2aa89b"/>
<rect x="833.95" y="520.0" width="2.8" height="27.7" fill="#2aa89b"/>
<rect x="838.16" y="499.0" width="1" height="34.0" fill="#2aa89b"/>
<rect x="837.26" y="500.7" width="2.8" height="22.9" fill="#2aa89b"/>
<rect x="841.48" y="482.0" width="1" height="20.0" fill="#2aa89b"/>
<rect x="840.58" y="483.9" width="2.8" height="16.8" fill="#2aa89b"/>
<rect x="844.79" y="474.2" width="1" height="14.8" fill="#eb5060"/>
<rect x="843.89" y="483.9" width="2.8" height="3.6" fill="#eb5060"/>
<rect x="848.10" y="471.8" width="1" height="21.7" fill="#2aa89b"/>
<rect x="847.20" y="480.2" width="2.8" height="6.1" fill="#2aa89b"/>
<rect x="851.42" y="459.8" width="1" height="22.2" fill="#2aa89b"/>
<rect x="850.52" y="464.6" width="2.8" height="15.6" fill="#2aa89b"/>
<rect x="854.73" y="448.9" width="1" height="17.1" fill="#2aa89b"/>
<rect x="853.83" y="451.3" width="2.8" height="13.3" fill="#2aa89b"/>
<rect x="858.05" y="438.0" width="1" height="22.0" fill="#eb5060"/>
<rect x="857.15" y="451.3" width="2.8" height="7.3" fill="#eb5060"/>
<rect x="861.36" y="452.0" width="1" height="23.4" fill="#eb5060"/>
<rect x="860.46" y="453.7" width="2.8" height="6.1" fill="#eb5060"/>
<rect x="864.67" y="458.0" width="1" height="14.0" fill="#eb5060"/>
<rect x="863.77" y="459.8" width="2.8" height="10.8" fill="#eb5060"/>
<rect x="867.99" y="447.7" width="1" height="25.3" fill="#2aa89b"/>
<rect x="867.09" y="463.4" width="2.8" height="8.4" fill="#2aa89b"/>
<rect x="871.30" y="452.0" width="1" height="13.0" fill="#2aa89b"/>
<rect x="870.40" y="453.7" width="2.8" height="9.7" fill="#2aa89b"/>
<rect x="874.62" y="447.7" width="1" height="13.3" fill="#2aa89b"/>
<rect x="873.72" y="451.3" width="2.8" height="8.5" fill="#2aa89b"/>
<rect x="877.93" y="444.1" width="1" height="21.9" fill="#eb5060"/>
<rect x="877.03" y="451.3" width="2.8" height="13.3" fill="#eb5060"/>
<rect x="881.24" y="453.0" width="1" height="13.0" fill="#2aa89b"/>
<rect x="880.34" y="455.0" width="2.8" height="9.6" fill="#2aa89b"/>
<rect x="884.56" y="453.0" width="1" height="17.0" fill="#eb5060"/>
<rect x="883.66" y="455.0" width="2.8" height="13.2" fill="#eb5060"/>
<rect x="887.87" y="464.0" width="1" height="30.7" fill="#eb5060"/>
<rect x="886.97" y="465.8" width="2.8" height="26.5" fill="#eb5060"/>
<rect x="891.19" y="488.0" width="1" height="7.0" fill="#eb5060"/>
<rect x="890.29" y="489.9" width="2.8" height="3.6" fill="#eb5060"/>
<rect x="894.50" y="475.0" width="1" height="19.7" fill="#2aa89b"/>
<rect x="893.60" y="476.6" width="2.8" height="15.7" fill="#2aa89b"/>
<rect x="897.81" y="459.8" width="1" height="26.5" fill="#eb5060"/>
<rect x="896.91" y="467.0" width="2.8" height="10.8" fill="#eb5060"/>
<rect x="901.13" y="459.8" width="1" height="26.5" fill="#eb5060"/>
<rect x="900.23" y="467.0" width="2.8" height="8.4" fill="#eb5060"/>
<rect x="904.44" y="469.0" width="1" height="10.0" fill="#2aa89b"/>
<rect x="903.54" y="470.6" width="2.8" height="6.0" fill="#2aa89b"/>
<rect x="907.76" y="176.8" width="1" height="296.2" fill="#2aa89b"/>
<rect x="906.86" y="236.0" width="2.8" height="235.8" fill="#2aa89b"/>
<rect x="911.07" y="117.0" width="1" height="140.0" fill="#2aa89b"/>
<rect x="910.17" y="134.2" width="2.8" height="101.8" fill="#2aa89b"/>
<rect x="914.38" y="123.5" width="1" height="131.5" fill="#eb5060"/>
<rect x="913.48" y="134.2" width="2.8" height="111.2" fill="#eb5060"/>
<text x="959" y="67.4" class="ax" textLength="56" lengthAdjust="spacingAndGlyphs">2028.000</text>
<text x="959" y="111.0" class="ax" textLength="56" lengthAdjust="spacingAndGlyphs">2027.000</text>
<text x="959" y="154.5" class="ax" textLength="56" lengthAdjust="spacingAndGlyphs">2026.000</text>
<text x="959" y="198.0" class="ax" textLength="56" lengthAdjust="spacingAndGlyphs">2025.000</text>
<text x="959" y="241.6" class="ax" textLength="56" lengthAdjust="spacingAndGlyphs">2024.000</text>
<text x="959" y="285.1" class="ax" textLength="56" lengthAdjust="spacingAndGlyphs">2023.000</text>
<text x="959" y="328.7" class="ax" textLength="56" lengthAdjust="spacingAndGlyphs">2022.000</text>
<text x="959" y="372.2" class="ax" textLength="56" lengthAdjust="spacingAndGlyphs">2021.000</text>
<text x="959" y="415.8" class="ax" textLength="56" lengthAdjust="spacingAndGlyphs">2020.000</text>
<text x="959" y="459.3" class="ax" textLength="56" lengthAdjust="spacingAndGlyphs">2019.000</text>
<text x="959" y="502.9" class="ax" textLength="56" lengthAdjust="spacingAndGlyphs">2018.000</text>
<text x="959" y="546.5" class="ax" textLength="56" lengthAdjust="spacingAndGlyphs">2017.000</text>
<text x="959" y="590.0" class="ax" textLength="56" lengthAdjust="spacingAndGlyphs">2016.000</text>
<text x="959" y="633.6" class="ax" textLength="56" lengthAdjust="spacingAndGlyphs">2015.000</text>
<rect x="949" y="235.5" width="72" height="20.1" fill="#f23645"/>
<text x="958.7" y="250.8" class="" textLength="55.6" lengthAdjust="spacingAndGlyphs" style="font-size:14px;fill:#ffe4e6">2023.795</text>
</g>
<text x="135.2" y="655" class="ax" textLength="35" lengthAdjust="spacingAndGlyphs">03:00</text>
<text x="254.5" y="655" class="ax" textLength="35" lengthAdjust="spacingAndGlyphs">06:00</text>
<text x="373.8" y="655" class="ax" textLength="35" lengthAdjust="spacingAndGlyphs">09:00</text>
<text x="493.1" y="655" class="ax" textLength="35" lengthAdjust="spacingAndGlyphs">12:00</text>
<text x="612.4" y="655" class="ax" textLength="35" lengthAdjust="spacingAndGlyphs">15:00</text>
<text x="731.7" y="655" class="ax" textLength="35" lengthAdjust="spacingAndGlyphs">18:00</text>
<text x="899.8" y="654.6" class="ax b" textLength="15.7" lengthAdjust="spacingAndGlyphs">28</text>
<circle cx="1.8" cy="23.8" r="5.2" fill="none" stroke="#cdd0d8" stroke-width="1.6"/>
<line x1="5.6" y1="27.8" x2="9.8" y2="31.8" stroke="#cdd0d8" stroke-width="1.6" stroke-linecap="round"/>
<circle cx="118.3" cy="25.4" r="10.3" fill="none" stroke="#cdd0d8" stroke-width="1.3"/>
<line x1="113" y1="25.4" x2="123.6" y2="25.4" stroke="#cdd0d8" stroke-width="1.3"/>
<line x1="118.3" y1="20.1" x2="118.3" y2="30.7" stroke="#cdd0d8" stroke-width="1.3"/>
<rect x="146.0" y="12" width="1" height="25.5" fill="#2a313d"/>
<rect x="332.0" y="12" width="1" height="25.5" fill="#2a313d"/>
<rect x="476.0" y="12" width="1" height="25.5" fill="#2a313d"/>
<rect x="933.0" y="12" width="1" height="25.5" fill="#2a313d"/>
<polyline points="311.8,23.3 316,27 320.2,23.3" fill="none" stroke="#cdd0d8" stroke-width="1.3"/>
<polyline points="454.8,23.3 459,27 463.2,23.3" fill="none" stroke="#cdd0d8" stroke-width="1.3"/>
<g stroke="#cdd0d8" stroke-width="1.4" fill="none"><line x1="353.6" y1="17" x2="353.6" y2="34.7"/><line x1="349.6" y1="32.2" x2="353.6" y2="32.2"/><line x1="353.6" y1="22" x2="357.4" y2="22"/><line x1="364" y1="15.7" x2="364" y2="33.5"/><line x1="360" y1="19.6" x2="364" y2="19.6"/><line x1="364" y1="27.8" x2="368.6" y2="27.8"/></g>
<g stroke="#1f52dc" stroke-width="1.3" fill="none"><rect x="386.8" y="17.5" width="4.6" height="15.5"/><line x1="389.1" y1="13.2" x2="389.1" y2="17.5"/><line x1="389.1" y1="33" x2="389.1" y2="36"/><rect x="396.2" y="19.4" width="4.4" height="8.6"/><line x1="398.4" y1="16.2" x2="398.4" y2="19.4"/><line x1="398.4" y1="28" x2="398.4" y2="32.8"/></g>
<defs><pattern id="dots" width="2" height="2" patternUnits="userSpaceOnUse"><rect width="1" height="1" fill="#a9adb6"/><rect x="1" y="1" width="1" height="1" fill="#a9adb6"/></pattern></defs>
<polygon points="414,33.6 424,24.2 431,29.3 441,19 441,33.6" fill="url(#dots)"/>
<polyline points="413.6,29.7 423.8,20.2 430.7,25.2 440.9,14.4" fill="none" stroke="#cdd0d8" stroke-width="1.5"/>
<polyline points="494.6,22.4 500.1,16.5 504.9,20.3 514.5,14.2" fill="none" stroke="#cdd0d8" stroke-width="1.3"/>
<g fill="none" stroke="#cdd0d8" stroke-width="1.3"><rect x="495.2" y="29.2" width="5" height="5"/><rect x="500.2" y="26.5" width="6.6" height="7.7"/><rect x="506.8" y="23.2" width="7" height="11"/></g>
<g fill="none" stroke="#cdd0d8" stroke-width="1.5" stroke-linecap="round" stroke-linejoin="round"><path d="M957.5 14.2 H952 Q950.2 14.2 950.2 16 V32.2 Q950.2 34 952 34 H968 Q969.8 34 969.8 32.2 V24"/><path d="M959.5 24.8 L969.6 14.6"/><path d="M963 14.2 H970 V21"/></g>
<g fill="none" stroke="#cdd0d8" stroke-width="1.5" stroke-linejoin="round"><path d="M993 17.2 H997.5 L999 14.8 H1007 L1008.5 17.2 H1014 Q1015.6 17.2 1015.6 19 V31.6 Q1015.6 33.4 1014 33.4 H993 Q991.3 33.4 991.3 31.6 V19 Q991.3 17.2 993 17.2 Z"/><circle cx="1003.2" cy="25.4" r="4.6"/></g>
<text x="15.7" y="29.8" class="tb" textLength="60.2" lengthAdjust="spacingAndGlyphs">XAUUSD</text>
<text x="161.5" y="30.4" class="tb" textLength="20.5" lengthAdjust="spacingAndGlyphs">1m</text>
<text x="197.6" y="30.4" class="tb" textLength="29.4" lengthAdjust="spacingAndGlyphs">30m</text>
<text x="242.5" y="30.4" class="tb" textLength="15.5" lengthAdjust="spacingAndGlyphs">1h</text>
<text x="272.8" y="30.4" class="tb" textLength="21.5" lengthAdjust="spacingAndGlyphs" style="fill:#1f52dc">5m</text>
<text x="522.7" y="29.9" class="tb" textLength="71.1" lengthAdjust="spacingAndGlyphs">Indicators</text>
<g stroke="#2150a0" stroke-width="1.4"><line x1="11.4" y1="66.4" x2="11.4" y2="77.5"/><line x1="11.4" y1="83.5" x2="11.4" y2="94.2"/><line x1="0" y1="80.3" x2="8" y2="80.3"/><line x1="15" y1="80.3" x2="24.7" y2="80.3"/></g>
<g fill="none" stroke="#cdd0d8" stroke-width="1.3"><line x1="2.6" y1="129.6" x2="18.9" y2="113.4"/><circle cx="20.7" cy="111.6" r="2.4"/><circle cx="0.8" cy="131.5" r="2.4"/></g>
<g fill="none" stroke="#cdd0d8" stroke-width="1.3"><line x1="0" y1="152.7" x2="23.5" y2="152.7"/><line x1="0" y1="159.9" x2="20.3" y2="159.9"/><circle cx="22.8" cy="159.9" r="2.5"/><line x1="0" y1="166.7" x2="23.5" y2="166.7"/><line x1="2.5" y1="174" x2="23.5" y2="174"/><circle cx="0" cy="174" r="2.5"/></g>
<g fill="none" stroke="#cdd0d8" stroke-width="1.3"><polyline points="0.6,215.9 4.2,195.4 8.7,203.3 18.1,196.4 21.7,212.3 8.7,203.3 0.6,215.9"/><circle cx="4.2" cy="195.4" r="2.3" fill="#0b121c"/><circle cx="18.1" cy="196.4" r="2.3" fill="#0b121c"/><circle cx="8.7" cy="203.3" r="2.3" fill="#0b121c"/><circle cx="21.7" cy="212.3" r="2.3" fill="#0b121c"/><circle cx="0.6" cy="215.9" r="2.3" fill="#0b121c"/></g>
<g fill="none" stroke="#cdd0d8" stroke-width="1.3"><line x1="2.5" y1="238.3" x2="22.3" y2="238.3"/><circle cx="0" cy="238.3" r="2.4"/><line x1="2.5" y1="250.3" x2="18.3" y2="250.3"/><circle cx="0" cy="250.3" r="2.4"/><circle cx="20.7" cy="250.3" r="2.4"/><line x1="2.5" y1="257.3" x2="22.3" y2="257.3"/><circle cx="0" cy="257.3" r="2.4"/><line x1="5" y1="247.3" x2="19.5" y2="240.7" stroke-dasharray="2,2"/></g>
<g fill="none" stroke="#cdd0d8" stroke-width="1.3"><path d="M0 296.5 C2 292 4.2 287.8 8.3 287.8 C12.2 287.8 14.6 290.3 14.6 293.5 C14.6 297 11.8 299.2 8 299.4 L0 299.6"/><path d="M15.6 281.2 Q13.2 283.2 14 285.6 Q15.8 289.4 19.2 287.6 L26 281"/></g>
<g fill="none" stroke="#cdd0d8" stroke-width="1.3"><path d="M2.4 325.4 V321.6 H19.8 V325.4 M11.1 321.6 V341.6 M8.3 341.6 H14.1"/></g>
<g fill="none" stroke="#cdd0d8" stroke-width="1.3"><circle cx="10.8" cy="373" r="12.2"/><path d="M6.8 375.8 Q10.8 380.2 14.8 375.8"/></g>
<circle cx="7.8" cy="371.2" r="1.2" fill="#cdd0d8"/><circle cx="13.6" cy="371.2" r="1.2" fill="#cdd0d8"/>
<rect x="0" y="401" width="31.3" height="1" fill="#2a313d"/>
<rect x="0" y="500.5" width="31.3" height="1" fill="#2a313d"/>
<g fill="none" stroke="#cdd0d8" stroke-width="1.3"><g transform="translate(10.6,430.9) rotate(-44)"><rect x="-15" y="-4.6" width="30" height="9.2" rx="0.8"/><path d="M-10 -4.6 V-1.4 M-6 -4.6 V-0.4 M-2 -4.6 V-1.4 M2 -4.6 V-0.4 M6 -4.6 V-1.4 M10 -4.6 V-0.4"/></g></g>
<g fill="none" stroke="#cdd0d8" stroke-width="1.3"><circle cx="8.9" cy="470.9" r="8"/><line x1="14.8" y1="476.8" x2="19.8" y2="481.8"/><line x1="5.1" y1="470.9" x2="12.8" y2="470.9"/><line x1="8.9" y1="467.1" x2="8.9" y2="474.8"/></g>
<g fill="none" stroke="#cdd0d8" stroke-width="1.3"><path d="M1.6 539.8 V527.6 A9.2 9.2 0 0 1 20 527.6 V539.8 H14 V527.8 A3.2 3.2 0 0 0 7.6 527.8 V539.8 Z"/><line x1="1.6" y1="534.7" x2="7.6" y2="534.7"/><line x1="14" y1="534.7" x2="20" y2="534.7"/></g>
<circle cx="66.4" cy="70.8" r="10.5" fill="#efbd14"/>
<g fill="#fbe88a"><polygon points="64.6,66.5 68.2,66.5 70.2,69.8 62,69.8"/><polygon points="60,71.5 64.6,71.5 66.1,74.5 58.8,74.5"/><polygon points="67.3,71.5 71.7,71.5 73.4,74.5 65.8,74.5"/></g>
<text x="82.1" y="77" class="leg" textLength="36.3" lengthAdjust="spacingAndGlyphs">Gold</text>
<text x="126.1" y="77" class="leg" textLength="36.3" lengthAdjust="spacingAndGlyphs">Spot</text>
<text x="184.1" y="77" class="leg" textLength="31.5" lengthAdjust="spacingAndGlyphs">U.S.</text>
<text x="224.2" y="77" class="leg" textLength="46.9" lengthAdjust="spacingAndGlyphs">Dollar</text>
<text x="288.3" y="77" class="leg" textLength="7.7" lengthAdjust="spacingAndGlyphs">5</text>
<text x="310.7" y="77" class="leg" textLength="57.8" lengthAdjust="spacingAndGlyphs">OANDA</text>
<line x1="170.3" y1="77" x2="175.3" y2="64.2" stroke="#d6d9e0" stroke-width="1.7"/>
<circle cx="279.6" cy="72.2" r="1.5" fill="#d6d9e0"/><circle cx="304.4" cy="72.2" r="1.5" fill="#d6d9e0"/>
<clipPath id="pl"><rect x="386.7" y="61" width="45.4" height="19.6" rx="9.8"/></clipPath>
<g clip-path="url(#pl)"><rect x="386" y="60" width="23.3" height="22" fill="#0a3438"/><rect x="409.3" y="60" width="24" height="22" fill="#3e1531"/></g>
<circle cx="399.3" cy="70.9" r="4.7" fill="#14c3b2"/>
<g fill="none" stroke="#e0105f" stroke-width="1.7" stroke-linecap="round"><path d="M415.6 69.2 Q418 67.4 420.3 68.8 Q422.6 70.2 425 68.2"/><path d="M415.6 73.6 Q418 71.8 420.3 73.2 Q422.6 74.6 425 72.6"/></g>
<text x="450.9" y="75.6" class="ohl" textLength="9.7" lengthAdjust="spacingAndGlyphs">O</text>
<text x="462.2" y="75.6" class="ohlc" textLength="60.1" lengthAdjust="spacingAndGlyphs">2026.355</text>
<text x="530.6" y="75.6" class="ohl" textLength="8.9" lengthAdjust="spacingAndGlyphs">H</text>
<text x="541.1" y="75.6" class="ohlc" textLength="60.2" lengthAdjust="spacingAndGlyphs">2026.600</text>
<text x="609.7" y="75.6" class="ohl" textLength="7.5" lengthAdjust="spacingAndGlyphs">L</text>
<text x="618.8" y="75.6" class="ohlc" textLength="60.1" lengthAdjust="spacingAndGlyphs">2023.575</text>
<text x="686.7" y="75.6" class="ohl" textLength="9.4" lengthAdjust="spacingAndGlyphs">C</text>
<text x="697.7" y="75.6" class="ohlc" textLength="59.3" lengthAdjust="spacingAndGlyphs">2023.795</text>
<text x="765.2" y="75.6" class="ohlc" textLength="44.4" lengthAdjust="spacingAndGlyphs">−2.560</text>
<text x="815.4" y="75.6" class="ohlc" textLength="56.4" lengthAdjust="spacingAndGlyphs">(−0.13%)</text>
<text x="63" y="694.7" class="bt" textLength="16.6" lengthAdjust="spacingAndGlyphs">1D</text>
<text x="95.3" y="694.7" class="bt" textLength="17.1" lengthAdjust="spacingAndGlyphs">5D</text>
<text x="128.2" y="694.7" class="bt" textLength="19" lengthAdjust="spacingAndGlyphs">1M</text>
<text x="161.9" y="694.7" class="bt" textLength="19" lengthAdjust="spacingAndGlyphs">3M</text>
<text x="195.3" y="694.7" class="bt" textLength="20.2" lengthAdjust="spacingAndGlyphs">6M</text>
<text x="230" y="694.7" class="bt" textLength="27.7" lengthAdjust="spacingAndGlyphs">YTD</text>
<text x="272.6" y="694.7" class="bt" textLength="15.8" lengthAdjust="spacingAndGlyphs">1Y</text>
<text x="304.2" y="694.7" class="bt" textLength="16.7" lengthAdjust="spacingAndGlyphs">5Y</text>
<text x="335.9" y="694.7" class="bt" textLength="19.3" lengthAdjust="spacingAndGlyphs">All</text>
<text x="909.4" y="693.5" class="bt2" textLength="109.5" lengthAdjust="spacingAndGlyphs">23:12:35 (UTC)</text>
<polygon points="979.6,649.9 984,642.6 992,642.6 996.4,649.9 992,657.2 984,657.2" fill="none" stroke="#cdd0d8" stroke-width="1.3"/>
<circle cx="988" cy="649.9" r="2.6" fill="none" stroke="#cdd0d8" stroke-width="1.3"/>
</g>
</svg>
</body></html>
